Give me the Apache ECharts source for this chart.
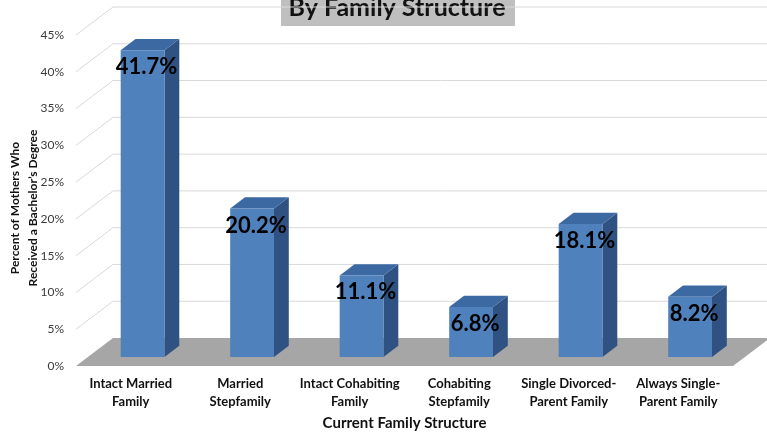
<!DOCTYPE html>
<html>
<head>
<meta charset="utf-8">
<script src="https://cdn.jsdelivr.net/npm/echarts@6/dist/echarts.min.js"></script>
<style>
  html, body { margin: 0; padding: 0; background: #ffffff; }
  #chart { width: 767px; height: 436px; }
</style>
</head>
<body>
<div id="chart"></div>
<script>
// Family structure categories and the share of mothers holding a bachelor's degree (%)
const categories = [
  'Intact Married\nFamily',
  'Married\nStepfamily',
  'Intact Cohabiting\nFamily',
  'Cohabiting\nStepfamily',
  'Single Divorced-\nParent Family',
  'Always Single-\nParent Family'
];
const bachelorShare = [41.7, 20.2, 11.1, 6.8, 18.1, 8.2];
const percentTicks = [5, 10, 15, 20, 25, 30, 35, 40, 45];

const FONT = 'Lato, "Open Sans", sans-serif';
// Oblique depth of the plot box: front edge of the floor -> back wall (px)
const DEPTH = [37, -28];
// Bar placement inside the depth, and front-face width as a share of the band
const BAR_FRONT = 0.32, BAR_BACK = 0.72, BAR_WIDTH = 0.40;

const shift = (pt, f) => [pt[0] + DEPTH[0] * f, pt[1] + DEPTH[1] * f];

const chart = echarts.init(document.getElementById('chart'), null, { renderer: 'canvas' });

const option = {
  animation: false,
  backgroundColor: '#ffffff',
  grid: { left: 76, right: 34, top: 35, bottom: 70 },
  xAxis: {
    type: 'category',
    data: categories,
    axisLine: { show: false },
    axisTick: { show: false },
    splitLine: { show: false },
    axisLabel: {
      interval: 0, margin: 9, lineHeight: 18,
      fontFamily: FONT, fontSize: 13, fontWeight: 'bold', color: '#111111'
    },
    name: 'Current Family Structure',
    nameLocation: 'middle',
    nameGap: 50,
    nameTextStyle: { fontFamily: FONT, fontSize: 15, fontWeight: 'bold', color: '#111111' }
  },
  yAxis: {
    type: 'value',
    min: 0, max: 45, interval: 5,
    axisLine: { show: false },
    axisTick: { show: false },
    splitLine: { show: false },
    axisLabel: {
      margin: 12, formatter: '{value}%',
      fontFamily: FONT, fontSize: 12, color: '#3a3a3a'
    }
  },
  graphic: [
    {
      type: 'group', left: 281, top: -6, z: 50,
      children: [
        { type: 'rect', shape: { x: 0, y: 0, width: 234, height: 32 }, style: { fill: '#bfbfbf' } },
        {
          type: 'text', x: 116, y: 26,
          style: {
            text: 'By Family Structure', align: 'center', verticalAlign: 'bottom',
            font: 'bold 25px ' + FONT, fill: '#111111'
          }
        }
      ]
    },
    {
      type: 'text', x: 24, y: 208, rotation: Math.PI / 2, z: 50,
      style: {
        text: 'Percent of Mothers Who\nReceived a Bachelor\u2019s Degree',
        align: 'center', verticalAlign: 'middle', lineHeight: 18,
        font: 'bold 12px ' + FONT, fill: '#111111'
      }
    }
  ],
  series: [
    {
      // side wall and back wall gridlines
      type: 'custom', z: 1, silent: true,
      data: percentTicks.map(v => [0, v]),
      renderItem: (params, api) => {
        const cs = params.coordSys;
        const y = api.coord([0, api.value(1)])[1];
        const front = [cs.x, y];
        const back = shift(front, 1);
        const backRight = [cs.x + cs.width + DEPTH[0], back[1]];
        const lineStyle = { stroke: '#d9d9d9', lineWidth: 1, fill: null };
        return {
          type: 'group',
          children: [
            { type: 'line', shape: { x1: front[0], y1: front[1], x2: back[0], y2: back[1] }, style: lineStyle },
            { type: 'line', shape: { x1: back[0], y1: back[1], x2: backRight[0], y2: backRight[1] }, style: lineStyle }
          ]
        };
      }
    },
    {
      // floor
      type: 'custom', z: 2, silent: true,
      data: [[0, 0]],
      renderItem: (params, api) => {
        const cs = params.coordSys;
        const y0 = api.coord([0, 0])[1];
        const fl = [cs.x, y0], fr = [cs.x + cs.width, y0];
        return {
          type: 'polygon',
          shape: { points: [fl, fr, shift(fr, 1), shift(fl, 1)] },
          style: { fill: '#a6a6a6' }
        };
      }
    },
    {
      // 3-D columns with value labels
      type: 'custom', z: 3,
      data: bachelorShare.map((v, i) => [i, v]),
      renderItem: (params, api) => {
        const i = api.value(0), v = api.value(1);
        const base = api.coord([i, 0]);
        const top = api.coord([i, v]);
        const w = api.size([1, 0])[0] * BAR_WIDTH;
        const x0 = base[0] - w / 2, x1 = base[0] + w / 2;
        const fTL = shift([x0, top[1]], BAR_FRONT), fTR = shift([x1, top[1]], BAR_FRONT);
        const fBL = shift([x0, base[1]], BAR_FRONT), fBR = shift([x1, base[1]], BAR_FRONT);
        const bTL = shift([x0, top[1]], BAR_BACK), bTR = shift([x1, top[1]], BAR_BACK);
        const bBR = shift([x1, base[1]], BAR_BACK);
        const cx = (fTL[0] + fTR[0]) / 2;
        return {
          type: 'group',
          children: [
            { type: 'polygon', shape: { points: [fTR, bTR, bBR, fBR] }, style: { fill: '#2f5283' } },
            { type: 'polygon', shape: { points: [fTL, fTR, bTR, bTL] }, style: { fill: '#3d69a3' } },
            { type: 'polygon', shape: { points: [fTL, fTR, fBR, fBL] }, style: { fill: '#4f81bd' } },
            {
              type: 'text', z2: 10,
              style: {
                text: v.toFixed(1) + '%', x: cx + 4, y: fTL[1] + 17,
                align: 'center', verticalAlign: 'middle',
                font: 'bold 22px ' + FONT, fill: '#000000'
              }
            }
          ]
        };
      }
    }
  ]
};

chart.setOption(option);
</script>
</body>
</html>
